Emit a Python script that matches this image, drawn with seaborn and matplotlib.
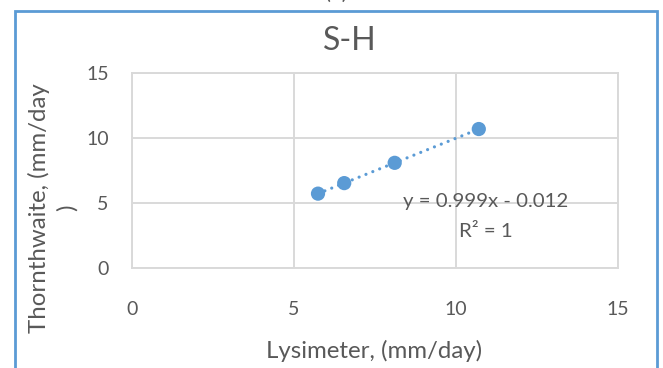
import matplotlib
matplotlib.use("Agg")
import matplotlib.pyplot as plt
import matplotlib.patches as mpatches
import seaborn as sns
import pandas as pd

# Daily evapotranspiration, Lysimeter vs Thornthwaite (mm/day)
lysimeter = [5.74, 6.55, 8.11, 10.71]
thornthwaite = [5.72, 6.53, 8.09, 10.69]

# Linear trend reported on the chart
slope = 0.999
intercept = -0.012
r_squared = 1

x_ticks = [0, 5, 10, 15]
y_ticks = [0, 5, 10, 15]

title = "S-H"
x_label = "Lysimeter, (mm/day)"
y_label = "Thornthwaite, (mm/day\n)"

blue = "#5B9BD5"
grid_gray = "#D9D9D9"
text_gray = "#595959"

sns.set_style("white")
plt.rcParams["font.family"] = ["Lato", "DejaVu Sans"]

W, H = 663, 368
fig = plt.figure(figsize=(W / 100, H / 100), dpi=100)
fig.patch.set_facecolor("white")

# plot area in pixels: left 132, right 618, top 73, bottom 268
ax = fig.add_axes([132.3 / W, (H - 268) / H, (617.6 - 132.3) / W, (268 - 73) / H])

df = pd.DataFrame({"Lysimeter": lysimeter, "Thornthwaite": thornthwaite})

# dotted linear trendline spanning the observed range
x_fit = [min(lysimeter), max(lysimeter)]
fit = pd.DataFrame({"x": x_fit, "y": [slope * v + intercept for v in x_fit]})
sns.lineplot(data=fit, x="x", y="y", ax=ax, color=blue, lw=2.3,
             linestyle=(0, (0.01, 2.3)), dash_capstyle="round", zorder=3)

sns.scatterplot(data=df, x="Lysimeter", y="Thornthwaite", ax=ax, color=blue,
                s=105, edgecolor="none", zorder=4)

ax.set_xlim(0, 15)
ax.set_ylim(0, 15)
ax.set_xticks(x_ticks)
ax.set_yticks(y_ticks)
ax.set_xticklabels([str(t) for t in x_ticks])
ax.set_yticklabels([str(t) for t in y_ticks])
ax.set_xlabel("")
ax.set_ylabel("")
ax.grid(True, color=grid_gray, lw=1.4)
ax.set_axisbelow(True)
for sp in ax.spines.values():
    sp.set_color(grid_gray)
    sp.set_linewidth(1.4)
ax.tick_params(axis="both", length=0, labelsize=14, labelcolor=text_gray)
ax.tick_params(axis="x", pad=24)
ax.tick_params(axis="y", pad=17)

# trendline equation
ax.text(10.93, 4.69, f"y = {slope}x - {abs(intercept)}", ha="center", va="baseline",
        fontsize=14.7, color=text_gray, zorder=5)
ax.text(10.93, 2.38, f"R² = {r_squared}", ha="center", va="baseline",
        fontsize=14.7, color=text_gray, zorder=5)

# titles
fig.text(350 / W, 1 - 50 / H, title, ha="center", va="baseline",
         fontsize=23, color=text_gray)
fig.text(374 / W, 1 - 358 / H, x_label, ha="center", va="baseline",
         fontsize=17.3, color=text_gray)
fig.text(53 / W, 1 - 208 / H, y_label, ha="center", va="center", rotation=90,
         multialignment="center", linespacing=1.35, fontsize=17.3, color=text_gray)

# panel caption above the chart frame
fig.text(336 / W, 1 - 3 / H, "(c)", ha="center", va="bottom",
         fontsize=16, color=text_gray)

# chart frame
frame = mpatches.Rectangle((15 / W, -0.1), (657 - 15) / W, 1 - 11 / H + 0.1,
                           transform=fig.transFigure, fill=False,
                           edgecolor=blue, lw=2.0, clip_on=False)
fig.add_artist(frame)

fig.savefig("out.png", dpi=100)
